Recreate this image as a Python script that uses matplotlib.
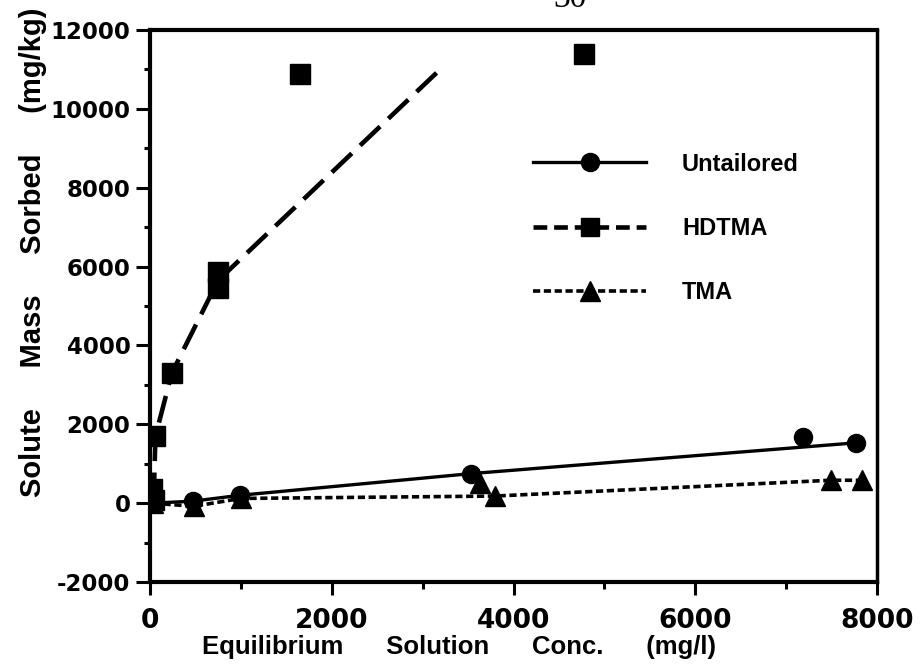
import matplotlib
matplotlib.use("Agg")
import matplotlib.pyplot as plt
from matplotlib.lines import Line2D
from matplotlib.ticker import MultipleLocator

plt.rcParams["axes.unicode_minus"] = False

# measured points (equilibrium conc. mg/l, sorbed mg/kg)
untailored_x = [20, 470, 990, 3535, 7180, 7766]
untailored_y = [0, 50, 200, 750, 1680, 1530]
hdtma_x = [20, 40, 60, 240, 750, 750, 1650, 4780]
hdtma_y = [350, 80, 1700, 3300, 5850, 5450, 10880, 11400]
tma_x = [30, 480, 1000, 3626, 3791, 7491, 7831]
tma_y = [0, -80, 120, 505, 180, 581, 581]

# isotherm lines drawn through the points
untailored_line_x = [20, 470, 990, 3535, 7766]
untailored_line_y = [0, 50, 200, 750, 1530]
hdtma_line_x = [40, 60, 240, 750, 3170]
hdtma_line_y = [80, 1700, 3300, 5650, 10950]
tma_line_x = [30, 480, 1000, 3791, 7491, 7831]
tma_line_y = [0, -80, 120, 180, 581, 581]

labels = ["Untailored", "HDTMA", "TMA"]

fig = plt.figure(figsize=(9.23, 6.68), dpi=100)
ax = fig.add_axes([0.1625, 0.1287, 0.7877, 0.8264])

dash_hd = (6, 2.5)
dot_tma = (2, 1)

ax.plot(untailored_line_x, untailored_line_y, color="black", lw=2.4, solid_capstyle="butt")
ax.plot(hdtma_line_x, hdtma_line_y, color="black", lw=3.3, dashes=dash_hd)
ax.plot(tma_line_x, tma_line_y, color="black", lw=2.6, dashes=dot_tma)

ax.plot(untailored_x, untailored_y, "o", color="black", ms=13)
ax.plot(hdtma_x, hdtma_y, "s", color="black", ms=14)
ax.plot(tma_x, tma_y, "^", color="black", ms=14)

ax.set_xlim(0, 8000)
ax.set_ylim(-2000, 12000)
ax.xaxis.set_major_locator(MultipleLocator(2000))
ax.xaxis.set_minor_locator(MultipleLocator(1000))
ax.yaxis.set_major_locator(MultipleLocator(2000))
ax.yaxis.set_minor_locator(MultipleLocator(1000))

ax.tick_params(axis="both", which="both", direction="out", width=2.2, color="black")
ax.tick_params(axis="y", which="major", length=10, pad=4)
ax.tick_params(axis="y", which="minor", length=4.5)
ax.tick_params(axis="x", which="major", length=9, pad=10)
ax.tick_params(axis="x", which="minor", length=5)

for lab in ax.get_yticklabels():
    lab.set_fontfamily("DejaVu Sans")
    lab.set_fontweight("bold")
    lab.set_fontsize(16.5)
for lab in ax.get_xticklabels():
    lab.set_fontfamily("DejaVu Sans")
    lab.set_fontweight("bold")
    lab.set_fontsize(19)

for side in ["left", "bottom", "top"]:
    ax.spines[side].set_linewidth(3)
ax.spines["right"].set_linewidth(2.5)

ax.set_xlabel("Equilibrium      Solution      Conc.      (mg/l)",
              fontfamily="Liberation Sans", fontweight="bold", fontsize=18.5)
ax.set_ylabel("Solute     Mass     Sorbed     (mg/kg)",
              fontfamily="Liberation Sans", fontweight="bold", fontsize=21)
ax.xaxis.set_label_coords(0.425, -0.096)
ax.yaxis.set_label_coords(-0.142, 0.598)

handles = [
    Line2D([], [], color="black", lw=2.4, marker="o", ms=13),
    Line2D([], [], color="black", lw=3.3, dashes=(3, 1.5), marker="s", ms=13),
    Line2D([], [], color="black", lw=2.6, dashes=dot_tma, marker="^", ms=14),
]
ax.legend(handles, labels, loc="upper left", bbox_to_anchor=(0.527, 0.778),
          frameon=False, borderpad=0, borderaxespad=0, handlelength=4.8,
          handletextpad=1.5, labelspacing=1.75,
          prop={"family": "Liberation Sans", "weight": "bold", "size": 17})

# page number at the top of the scanned sheet
fig.text(0.617, 0.9895, "30", family="Liberation Serif", fontsize=24,
         ha="center", va="baseline")

fig.savefig("out.png", dpi=100)
